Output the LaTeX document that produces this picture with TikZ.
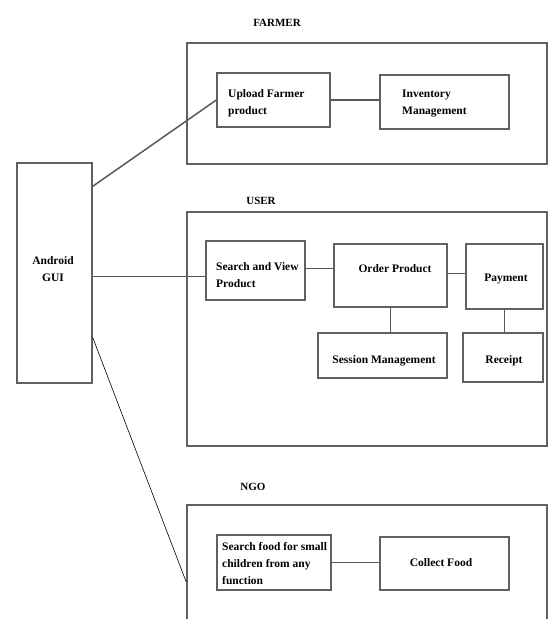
\documentclass[tikz,border=0pt]{standalone}
\usepackage{fontspec}
\setmainfont{Liberation Serif}
\usetikzlibrary{calc}
\begin{document}
\begin{tikzpicture}[x=1pt,y=-1pt,
  frame/.style={draw=gray!75!black, line width=1.3pt, rectangle, inner sep=0pt},
  box/.style={draw=gray!75!black, line width=1.3pt, rectangle, inner sep=0pt, fill=white},
  conn/.style={draw=gray!70!black, line width=1.5pt},
  thin/.style={draw=black, line width=0.6pt},
  txt/.style={font=\fontsize{11.5}{17}\selectfont\bfseries, inner sep=0pt, align=left},
  ctxt/.style={font=\fontsize{11.5}{17}\selectfont\bfseries, inner sep=0pt, align=center},
  lbl/.style={font=\fontsize{11}{13}\selectfont\bfseries, inner sep=0pt}]
\useasboundingbox (0,0) rectangle (548,619);
\clip (0,0) rectangle (548,619);
\fill[white] (0,0) rectangle (548,619);

% group labels
\node[lbl, anchor=base] (farmerL) at (277,26) {FARMER};
\node[lbl, anchor=base] (userL) at (261,204) {USER};
\node[lbl, anchor=base] (ngoL) at (253,490) {NGO};

% frames
\node[frame, minimum width=360pt, minimum height=121pt] (farmer) at (367,103.5) {};
\node[frame, minimum width=360pt, minimum height=234pt] (user) at (367,329) {};
\node[frame, minimum width=360pt, minimum height=130pt] (ngo) at (367,570) {};

% android
\node[box, minimum width=75pt, minimum height=220pt] (android) at (54.5,273) {};
\node[ctxt, anchor=base] (androidT) at (53,281) {Android\\GUI};

% farmer boxes
\node[box, minimum width=113pt, minimum height=54pt] (up) at (273.5,100) {};
\node[txt, anchor=base west] (upT) at (228,114) {Upload Farmer\\product};
\node[box, minimum width=129pt, minimum height=54pt] (inv) at (444.5,102) {};
\node[txt, anchor=base west] (invT) at (402,114) {Inventory\\Management};

% user boxes
\node[box, minimum width=99pt, minimum height=59pt] (sv) at (255.5,270.5) {};
\node[txt, anchor=base west] (svT) at (216,287) {Search and View\\Product};
\node[box, minimum width=113pt, minimum height=63pt] (order) at (390.5,275.5) {};
\node[txt, anchor=base] (orderT) at (395,272) {Order Product};
\node[box, minimum width=77pt, minimum height=65pt] (pay) at (504.5,276.5) {};
\node[txt, anchor=base] (payT) at (506,281) {Payment};
\node[box, minimum width=129pt, minimum height=45pt] (sess) at (382.5,355.5) {};
\node[txt, anchor=base] (sessT) at (384,363) {Session Management};
\node[box, minimum width=80pt, minimum height=49pt] (rec) at (503,357.5) {};
\node[txt, anchor=base] (recT) at (504,363) {Receipt};

% ngo boxes
\node[box, minimum width=114pt, minimum height=55pt] (sf) at (274,562.5) {};
\node[txt, anchor=base west] (sfT) at (222,584) {Search food for small\\children from any\\function};
\node[box, minimum width=129pt, minimum height=53pt] (cf) at (444.5,563.5) {};
\node[txt, anchor=base] (cfT) at (441,566) {Collect Food};

% connectors
\draw[conn] ([yshift=-24pt]android.north east) -- (up.west);
\draw[conn] ([yshift=-6pt]sv.west) -- ([yshift=-6pt]sv.west -| android.east);
\draw[thin] ([yshift=-175pt]android.north east) -- ([yshift=-78pt]ngo.north west);
\draw[conn] (up.east) -- (up.east -| inv.west);
\draw[conn] ([yshift=2pt]sv.east) -- ([yshift=2pt]sv.east -| order.west);
\draw[conn] ([yshift=3pt]pay.west) -- ([yshift=3pt]pay.west -| order.east);
\draw[conn] (order.south) -- (order.south |- sess.north);
\draw[conn] (pay.south) -- (pay.south |- rec.north);
\draw[conn] (sf.east) -- (sf.east -| cf.west);
\end{tikzpicture}
\end{document}
